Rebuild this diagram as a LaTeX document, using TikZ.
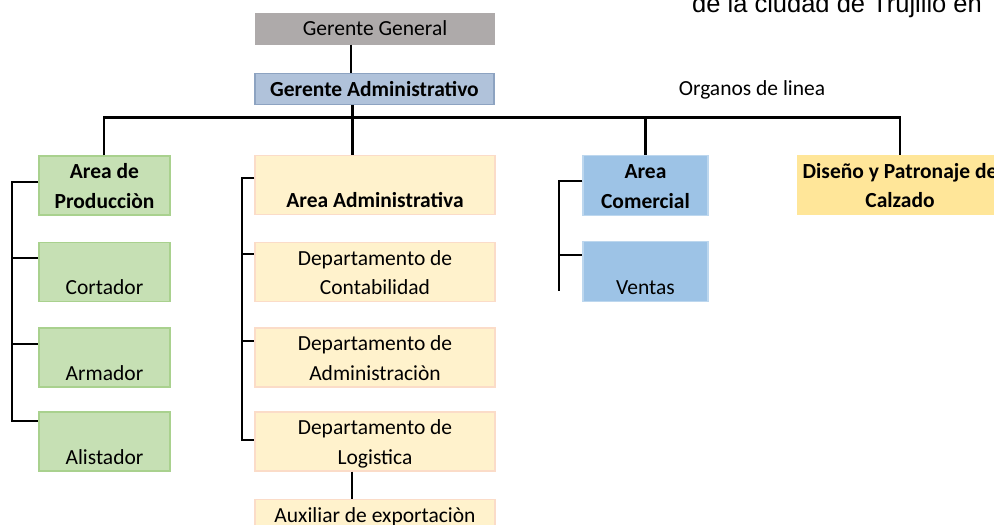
\documentclass[tikz,border=0pt]{standalone}
\usepackage{fontspec}
\setmainfont{Carlito}
\newfontfamily\arialf{Liberation Sans}
\usetikzlibrary{calc}
\definecolor{ggfill}{HTML}{AEAAAA}
\definecolor{gafill}{HTML}{B0C2DA}
\definecolor{gadraw}{HTML}{8DA3C1}
\definecolor{grfill}{HTML}{C6E0B4}
\definecolor{grdraw}{HTML}{A9D18E}
\definecolor{ylfill}{HTML}{FFF2CC}
\definecolor{yldraw}{HTML}{FBDCC8}
\definecolor{blfill}{HTML}{9DC3E6}
\definecolor{bldraw}{HTML}{BDD7EE}
\definecolor{dsfill}{HTML}{FFE699}
\newcommand{\ls}{\rule[-6.85pt]{0pt}{29.5pt}}
\begin{document}
\begin{tikzpicture}[x=1pt,y=-1pt,
  box/.style={inner sep=0pt, align=center, text=black,
    font=\fontsize{21.5}{29.5}\selectfont},
  ggbox/.style={box, fill=ggfill, minimum width=240, minimum height=32},
  gabox/.style={box, fill=gafill, draw=gadraw, line width=1.2pt, minimum width=239, minimum height=31, font=\fontsize{21.5}{29.5}\selectfont\bfseries},
  grbox/.style={box, fill=grfill, draw=grdraw, line width=1.2pt, minimum width=131, minimum height=58},
  ylbox/.style={box, fill=ylfill, draw=yldraw, line width=1.2pt, minimum width=240, minimum height=58},
  blbox/.style={box, fill=blfill, draw=bldraw, line width=1.2pt, minimum width=125, minimum height=60},
  dsbox/.style={box, fill=dsfill, minimum width=206, minimum height=60},
  conn/.style={line width=2.6pt, black},
  lbl/.style={inner sep=0pt, font=\fontsize{21.5}{29.5}\selectfont}
]
\useasboundingbox (0,0) rectangle (994,525);
\clip (0,0) rectangle (994,525);

% top partial text
\node[inner sep=0pt, anchor=base west, font=\arialf\fontsize{25.5}{28}\selectfont] (title) at (692,12) {de la ciudad de Trujillo en};

% boxes
\node[ggbox] (gg) at (375,28.5) {Gerente General};
\node[gabox] (ga) at (374.5,89) {Gerente Administrativo};
\node[lbl] (org) at (752,90) {Organos de linea};

\node[grbox] (ap) at (104.5,185.5) {\ls\textbf{Area de}\\\ls\textbf{Producciòn}};
\node[grbox] (cort) at (104.5,272) {\ls\\\ls Cortador};
\node[grbox] (arm) at (104.5,357.5) {\ls\\\ls Armador};
\node[grbox] (ali) at (104.5,441.5) {\ls\\\ls Alistador};

\node[ylbox] (aa) at (375,185) {\ls\\\ls\textbf{Area Administrativa}};
\node[ylbox] (cont) at (375,272) {\ls Departamento de\\\ls Contabilidad};
\node[ylbox] (adm) at (375,357.5) {\ls Departamento de\\\ls Administraciòn};
\node[ylbox] (log) at (375,441.5) {\ls Departamento de\\\ls Logistica};
\node[ylbox] (aux) at (375,529) {\ls Auxiliar de exportaciòn\\\ls};

\node[blbox] (ac) at (645.5,185.5) {\ls\textbf{Area}\\\ls\textbf{Comercial}};
\node[blbox] (ven) at (645.5,271.5) {\ls\\\ls Ventas};

\node[dsbox] (ds) at (900,185) {\ls\textbf{Diseño y Patronaje de}\\\ls\textbf{Calzado}};

% connectors
\coordinate (busL) at (104,117.5);
\coordinate (busR) at (900,117.5);
\draw[conn] (gg.south -| 351,0) -- (ga.north -| 351,0);
\draw[conn] (ga.south -| 352.5,0) -- (aa.north -| 352.5,0);
\draw[conn] (ap.north -| busL) -- (busL) -- (busR) -- (ds.north -| busR);
\draw[conn] (ac.north) -- (ac.north |- busL);
\draw[conn] (log.south -| 352,0) -- (aux.north -| 352,0);

% left bracket
\coordinate (ls1) at (12,182);
\coordinate (ls4) at (12,421);
\draw[conn] (ap.west |- ls1) -- (ls1) -- (ls4) -- (ali.west |- ls4);
\draw[conn] (12,258) -- (cort.west |- 0,258);
\draw[conn] (12,344) -- (arm.west |- 0,344);

% middle bracket
\coordinate (ms1) at (242,178);
\coordinate (ms4) at (242,440);
\draw[conn] (aa.west |- ms1) -- (ms1) -- (ms4) -- (log.west |- ms4);
\draw[conn] (242,254) -- (cont.west |- 0,254);
\draw[conn] (242,341) -- (adm.west |- 0,341);

% right bracket
\coordinate (rs1) at (559,181);
\coordinate (rs2) at (559,291);
\draw[conn] (ac.west |- rs1) -- (rs1) -- (rs2);
\draw[conn] (559,255) -- (ven.west |- 0,255);
\end{tikzpicture}
\end{document}
